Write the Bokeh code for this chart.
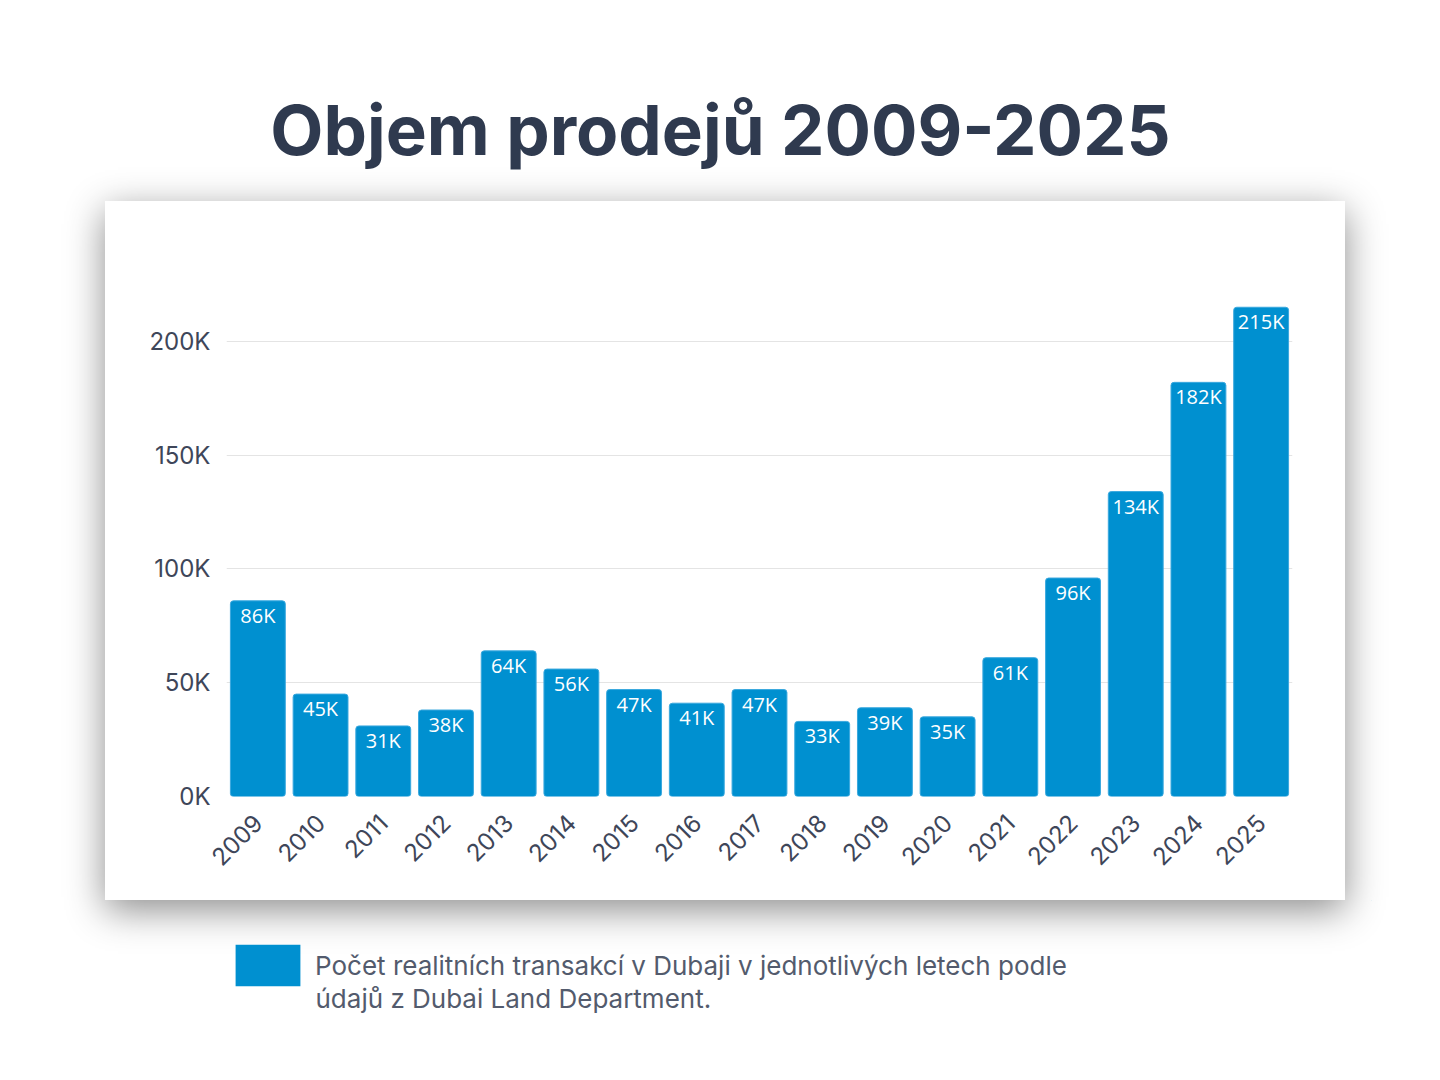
import math

from bokeh.plotting import figure
from bokeh.layouts import column
from bokeh.models import ColumnDataSource, FixedTicker, Label, Legend, LegendItem, Range1d
from bokeh.core.properties import value
from bokeh.embed import file_html
from bokeh.resources import INLINE

# data
years = [str(y) for y in range(2009, 2026)]
sales = [86000, 45000, 31000, 38000, 64000, 56000, 47000, 41000, 47000,
         33000, 39000, 35000, 61000, 96000, 134000, 182000, 215000]
bar_labels = ["86K", "45K", "31K", "38K", "64K", "56K", "47K", "41K", "47K",
              "33K", "39K", "35K", "61K", "96K", "134K", "182K", "215K"]
y_ticks = [0, 50000, 100000, 150000, 200000]
y_tick_labels = ["0K", "50K", "100K", "150K", "200K"]
title_text = "Objem prodejů 2009-2025"
legend_lines = ["Počet realitních transakcí v Dubaji v jednotlivých letech podle",
                "údajů z Dubai Land Department."]

BLUE = "#0090d0"
DARK = "#2f3a4f"
AXIS = "#3e4659"
LEGEND_TEXT = "#535b6d"
AXIS_FONT = "Inter"

# borders shared by every figure in the column (the column lines up the frames)
BL, BR = 121, 53


def blank(height):
    f = figure(width=1424, height=height, x_axis_type=None, y_axis_type=None,
               x_range=Range1d(0, 1), y_range=Range1d(0, 1),
               output_backend="svg", toolbar_location=None,
               min_border_left=BL, min_border_right=BR,
               min_border_top=0, min_border_bottom=0,
               outline_line_color=None)
    f.background_fill_alpha = 0
    f.border_fill_alpha = 0
    f.grid.visible = False
    return f


# title
tf = blank(201)
tf.add_layout(Label(x=720 - BL, y=72, x_units="screen", y_units="screen", text=title_text,
                    text_align="center", text_baseline="alphabetic",
                    text_font="Inter", text_font_style="bold",
                    text_font_size="69px", text_color=DARK))

# chart card
src = ColumnDataSource(dict(year=years, sales=sales, label=bar_labels))

p = figure(width=1240, height=699, x_range=years, y_range=Range1d(0, 225000),
           output_backend="svg", toolbar_location=None,
           min_border_left=BL, min_border_right=BR,
           min_border_top=83, min_border_bottom=104,
           outline_line_color=None,
           styles={"box-shadow": "0 10px 36px rgba(0,0,0,0.45)"})
p.margin = (0, 0, 0, 105)
p.x_range.range_padding = 0

p.vbar(x="year", top="sales", width=0.875, source=src,
       fill_color=BLUE, line_color="#3aa8de", line_width=1, border_radius=3)
p.text(x="year", y="sales", text="label", source=src,
       text_align="center", text_baseline="top", y_offset=1,
       text_color="white", text_font=value("Open Sans"), text_font_size="20px")

p.xgrid.grid_line_color = None
p.ygrid.grid_line_color = "#e4e4e4"
p.ygrid.ticker = FixedTicker(ticks=y_ticks)

p.yaxis.ticker = FixedTicker(ticks=y_ticks)
p.yaxis.major_label_overrides = dict(zip(y_ticks, y_tick_labels))
for ax in (p.xaxis, p.yaxis):
    ax.axis_line_color = None
    ax.major_tick_line_color = None
    ax.minor_tick_line_color = None
    ax.major_label_text_font = AXIS_FONT
    ax.major_label_text_font_size = "24px"
    ax.major_label_text_color = AXIS
p.yaxis.major_label_standoff = 10
p.xaxis.major_label_standoff = 16
p.xaxis.major_label_orientation = math.pi / 4

# legend below the card
lf = blank(180)
# swatch renderer sits far outside the visible range, only its legend key shows
key = lf.vbar(x=[50], top=[50], bottom=[40], width=1, fill_color=BLUE, line_color=None)
legend = Legend(items=[LegendItem(label=legend_lines[0], renderers=[key])],
                location=(227 - BL, 89), glyph_width=81, glyph_height=52,
                label_standoff=7, padding=0, margin=0,
                border_line_alpha=0, background_fill_alpha=0,
                label_text_font=AXIS_FONT, label_text_font_size="26px",
                label_text_color=LEGEND_TEXT)
lf.add_layout(legend)
# second line of the legend text, under the first
lf.add_layout(Label(x=315 - BL, y=82, x_units="screen", y_units="screen",
                    text=legend_lines[1], text_baseline="alphabetic",
                    text_font=AXIS_FONT, text_font_size="26px",
                    text_color=LEGEND_TEXT))

layout = column(tf, p, lf, spacing=0)

open("out.html", "w").write(file_html(layout, INLINE))
